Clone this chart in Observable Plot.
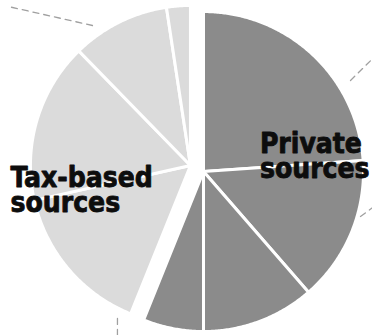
<!DOCTYPE html>
<html><head><meta charset="utf-8">
<script src="https://cdn.jsdelivr.net/npm/d3@7"></script>
<script src="https://cdn.jsdelivr.net/npm/@observablehq/plot@0.6"></script>
<style>
body{margin:0;background:#fff}
svg text{font-stretch:condensed}
</style>
</head><body><div id="chart"></div>
<script>
// ---- data ----
const groups = ["Private sources", "Tax-based sources"];
const sliceGroup = ["Private sources", "Private sources", "Private sources", "Private sources",
                    "Tax-based sources", "Tax-based sources", "Tax-based sources", "Tax-based sources"];
const shares = [23.9, 14.7, 11.4, 6.1, 15.4, 16.2, 9.9, 2.4]; // % of total, clockwise from 12 o'clock
const groupFill = ["#8b8b8b", "#dbdbdb"];
const groupShift = [[0.0375, -0.019], [-0.044, 0.019]]; // explode offset (pie radii)
const labelText = ["Private\nsources", "Tax-based\nsources"];
const labelX = [0.39, -1.169];
const labelY = [0.206, -0.008];
// dashed leader lines (polar: angle deg, radius in pie radii)
const leaderA0 = [323.7, 60.1, 106.4, 208.1];
const leaderR0 = [1.109, 1.103, 1.062, 1.062];
const leaderA1 = [310.5, 57.9, 102.6, 205.6];
const leaderR1 = [1.56, 1.292, 1.121, 1.158];

// ---- build slice polygons ----
const total = d3.sum(shares);
const rad = Math.PI / 180;
let acc = 0;
const pts = [];
shares.forEach((v, i) => {
  const a0 = acc / total * 360, a1 = (acc + v) / total * 360;
  acc += v;
  const g = groups.indexOf(sliceGroup[i]);
  const [cx, cy] = groupShift[g];
  const fill = groupFill[g];
  const n = Math.max(2, Math.ceil((a1 - a0) / 0.5));
  pts.push({slice: i, x: cx, y: cy, fill});
  for (let k = 0; k <= n; k++) {
    const a = (a0 + (a1 - a0) * k / n) * rad;
    pts.push({slice: i, x: cx + Math.sin(a), y: cy + Math.cos(a), fill});
  }
  pts.push({slice: i, x: cx, y: cy, fill});
});

const leaderPts = [];
leaderA0.forEach((a, i) => {
  leaderPts.push({id: i, x: leaderR0[i] * Math.sin(a * rad), y: leaderR0[i] * Math.cos(a * rad)});
  leaderPts.push({id: i, x: leaderR1[i] * Math.sin(leaderA1[i] * rad), y: leaderR1[i] * Math.cos(leaderA1[i] * rad)});
});

const labels = labelText.map((t, i) => ({text: t, x: labelX[i], y: labelY[i]}));

const chart = Plot.plot({
  width: 372,
  height: 335,
  margin: 0,
  x: {domain: [-1.23125, 1.09375], axis: null},
  y: {domain: [-1.04375, 1.05], axis: null},
  color: {type: "identity"},
  style: {background: "white"},
  marks: [
    Plot.line(leaderPts, {x: "x", y: "y", z: "id", stroke: "#a0a0a0", strokeWidth: 1.3, strokeDasharray: "6,5"}),
    Plot.line(pts, {x: "x", y: "y", z: "slice", fill: "fill", stroke: "white", strokeWidth: 3, curve: "linear"}),
    Plot.text(labels, {x: "x", y: "y", text: "text", textAnchor: "start", lineAnchor: "top",
      fontSize: 28, fontWeight: "bold", lineHeight: 0.89, fill: "#0d0d0d",
      stroke: "#0d0d0d", strokeWidth: 0.8,
      fontFamily: "'DejaVu Sans Condensed','DejaVu Sans',sans-serif"})
  ]
});
document.getElementById("chart").appendChild(chart);
</script>
</body></html>
